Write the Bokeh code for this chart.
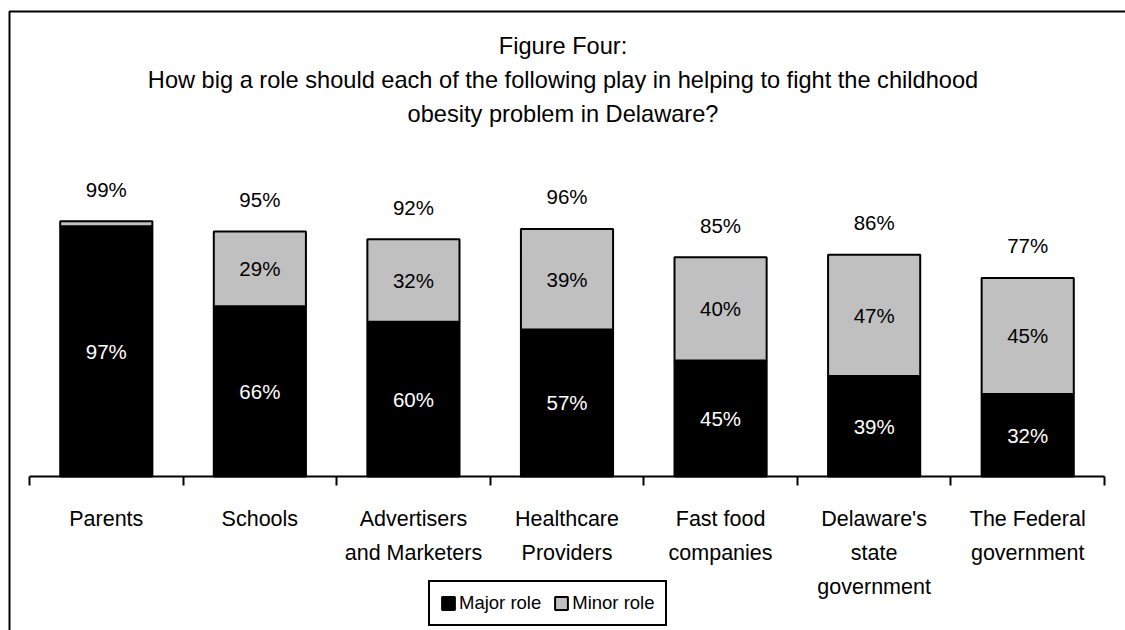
from bokeh.plotting import figure
from bokeh.models import ColumnDataSource, Range1d, FixedTicker, Label, BoxAnnotation
from bokeh.core.properties import value
from bokeh.embed import file_html
from bokeh.resources import INLINE

FONT = "Liberation Sans"

categories = ["Parents", "Schools", "Advertisers\nand Marketers", "Healthcare\nProviders",
              "Fast food\ncompanies", "Delaware's\nstate\ngovernment", "The Federal\ngovernment"]
major = [97, 66, 60, 57, 45, 39, 32]
minor = [2, 29, 32, 39, 40, 47, 45]
totals = [99, 95, 92, 96, 85, 86, 77]
series = ["Major role", "Minor role"]
title_lines = ["Figure Four:",
               "How big a role should each of the following play in helping to fight the childhood",
               "obesity problem in Delaware?"]

W, H = 1125, 630
n = len(categories)
# layout geometry (pixels)
plot_left, plot_right, base_y = 29, 1104, 476
px_per_cat = (plot_right - plot_left) / n
px_per_pct = 2.579

xs = [i + 0.5 for i in range(n)]
src = ColumnDataSource(dict(
    x=xs, major=major, minor=minor, total=totals,
    major_mid=[m / 2 for m in major],
    minor_mid=[m + k / 2 for m, k in zip(major, minor)],
    major_lbl=[f"{m}%" for m in major],
    minor_lbl=[f"{k}%" if k >= 5 else "" for k in minor],
    total_lbl=[f"{t}%" for t in totals],
))

x0 = -plot_left / px_per_cat
y0 = -(H - base_y) / px_per_pct
p = figure(width=W, height=H, output_backend="svg", toolbar_location=None,
           x_range=Range1d(x0, x0 + W / px_per_cat),
           y_range=Range1d(y0, y0 + H / px_per_pct),
           y_axis_location=None, title=None,
           min_border_left=0, min_border_right=0, min_border_top=0, min_border_bottom=0)
p.outline_line_color = None
p.grid.visible = False
p.background_fill_color = "white"
p.border_fill_color = "white"

p.vbar_stack(["major", "minor"], x="x", width=0.6, source=src,
             fill_color=["#000000", "#c0c0c0"], line_color="black", line_width=2,
             legend_label=series)

txt = dict(source=src, text_align="center", text_baseline="middle",
           text_font=value(FONT), text_font_size="20.5px")
p.text(x="x", y="major_mid", text="major_lbl", text_color="white", **txt)
p.text(x="x", y="minor_mid", text="minor_lbl", text_color="black", **txt)
p.text(x="x", y="total", text="total_lbl", text_color="black", y_offset=-32, **txt)

ax = p.xaxis[0]
ax.fixed_location = 0
ax.bounds = (0, n)
ax.ticker = FixedTicker(ticks=xs, minor_ticks=list(range(n + 1)))
ax.major_label_overrides = {x: c for x, c in zip(xs, categories)}
ax.major_tick_out = 0
ax.major_tick_in = 0
ax.minor_tick_out = 9
ax.minor_tick_in = 0
ax.minor_tick_line_color = "black"
ax.minor_tick_line_width = 2
ax.axis_line_color = "black"
ax.axis_line_width = 2
ax.major_label_text_font = FONT
ax.major_label_text_font_size = "21.5px"
ax.major_label_text_color = "black"
ax.major_label_text_line_height = 1.43
ax.major_label_standoff = 21

for i, t in enumerate(title_lines):
    p.add_layout(Label(x=562.5, y=H - 45 - 34 * i, x_units="screen", y_units="screen", text=t,
                       text_align="center", text_baseline="middle", text_font=FONT,
                       text_font_size="23.6px", text_color="black"))

lg = p.legend[0]
lg.orientation = "horizontal"
lg.location = (428, 4)
lg.border_line_color = "black"
lg.border_line_width = 2
lg.border_line_alpha = 1
lg.background_fill_color = "white"
lg.background_fill_alpha = 1
lg.label_text_font = FONT
lg.label_text_font_size = "18.5px"
lg.label_text_color = "black"
lg.glyph_width = 16
lg.glyph_height = 16
lg.label_standoff = 3
lg.spacing = 12
lg.padding = 10
lg.margin = 0

p.add_layout(BoxAnnotation(left=9, right=W + 40, top=11, bottom=H + 40,
                           left_units="canvas", right_units="canvas",
                           top_units="canvas", bottom_units="canvas",
                           fill_color=None, line_color="black", line_alpha=1, line_width=2))

open("out.html", "w").write(file_html(p, INLINE))
